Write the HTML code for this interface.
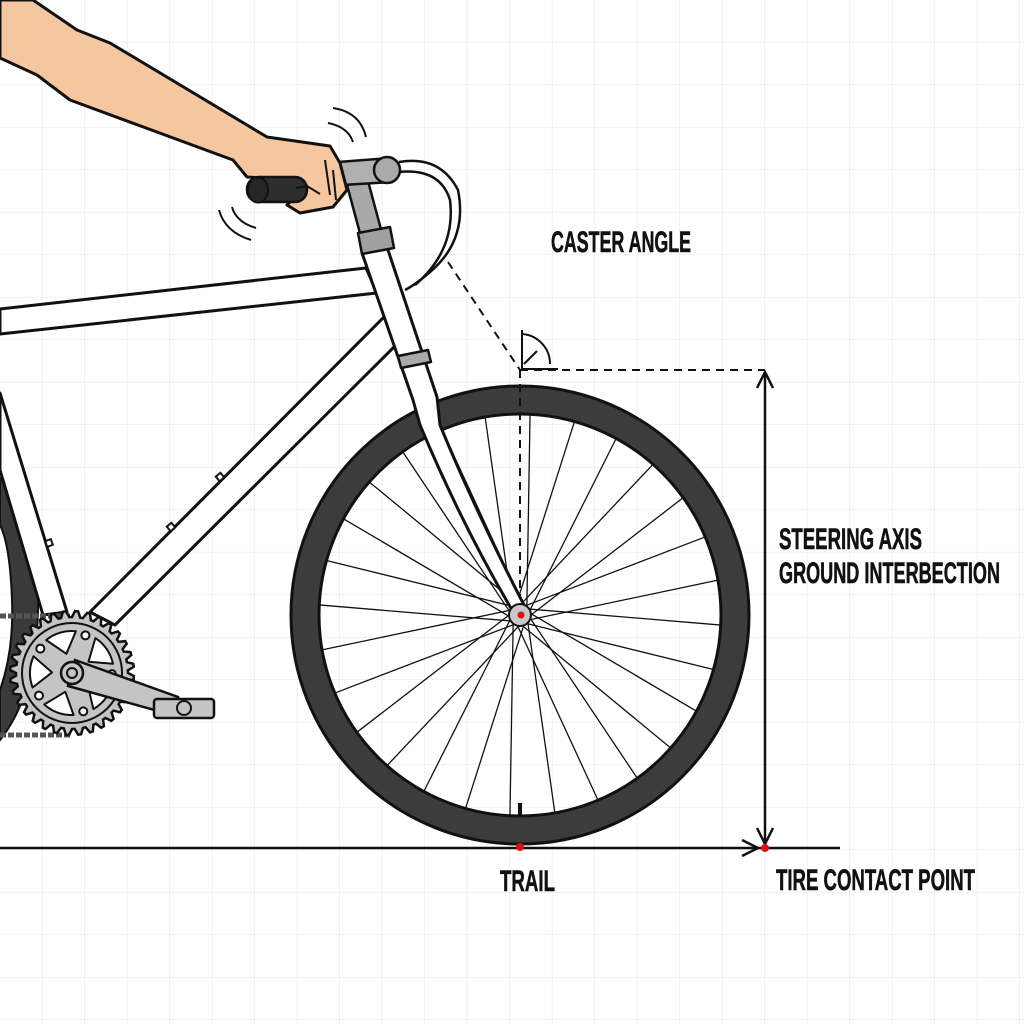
<!DOCTYPE html>
<html><head><meta charset="utf-8"><style>
html,body{margin:0;padding:0;background:#fff;}
svg{display:block;}
text{font-family:"Liberation Sans",sans-serif;font-weight:bold;fill:#111;stroke:#111;stroke-width:0.6;}
</style></head><body>
<svg id="s" width="1024" height="1024" viewBox="0 0 1024 1024" xmlns="http://www.w3.org/2000/svg">
<defs>
<pattern id="g" width="42.5" height="42.5" patternUnits="userSpaceOnUse">
<path d="M42.5 0V42.5M0 42.5H42.5" stroke="#e6e9ec" stroke-width="1.3" fill="none"/>
</pattern>
</defs>
<rect width="1024" height="1024" fill="url(#g)"/>

<!-- rear tire -->
<path d="M0 478 Q40 520 38 610 Q36 695 0 740 L0 690 Q14 650 12 600 Q10 545 0 525Z" fill="#3a3a3a" stroke="#111" stroke-width="2"/>

<!-- frame -->
<g fill="#fff" stroke="#111" stroke-width="3" stroke-linejoin="round">
<path d="M0 309 L366 268 L377 293 L0 334Z"/>
<path d="M386 315 L90 612 L115 625 L396 345Z"/>
<path d="M0 393 L67 612 L43 615 L0 470Z"/>
</g>
<g fill="#fff" stroke="#111" stroke-width="2">
<rect x="46" y="540" width="6" height="6" transform="rotate(-20 49 543)"/>
<rect x="168" y="524" width="6" height="6" transform="rotate(-40 171 527)"/>
<rect x="217" y="474" width="6" height="6" transform="rotate(-40 220 477)"/>
</g>

<!-- front wheel -->
<circle cx="520" cy="615" r="215" fill="none" stroke="#3c3c3c" stroke-width="28"/>
<circle cx="520" cy="615" r="229" fill="none" stroke="#111" stroke-width="3"/>
<circle cx="520" cy="615" r="201" fill="none" stroke="#111" stroke-width="3"/>
<g id="spokes" stroke="#111" stroke-width="1.3"></g>
<line x1="520" y1="803" x2="520" y2="817" stroke="#111" stroke-width="4"/>

<!-- dashed steering axis -->
<g stroke="#111" stroke-width="2" stroke-dasharray="8 6" fill="none">
<line x1="448" y1="262" x2="520" y2="370"/>
<line x1="520" y1="370" x2="520" y2="612"/>
<line x1="520" y1="370" x2="765" y2="370"/>
</g>
<path d="M522 330 V370 M522 334 A30 30 0 0 1 550 364 M524 364 L537 351 M522 369 H558" stroke="#111" stroke-width="2" fill="none"/>

<!-- head tube, fork -->
<g stroke="#111" stroke-width="3" stroke-linejoin="round">
<path d="M362 253 L387 247 L437 397 L440 425 Q475 510 524 605 L512 610 Q462 525 420 425 L413 400Z" fill="#fff"/>
<path d="M398 356 L428 350 L431 362 L401 368Z" fill="#aaa" stroke-width="2.5"/>
<path d="M347 185 L368 181 L382 233 L361 237Z" fill="#a9a9a9" stroke-width="2.5"/>
<path d="M358 233 L390 227 L394 248 L362 254Z" fill="#a0a0a0" stroke-width="2.5"/>
<path d="M338 162 L390 158 L392 182 L342 185Z" fill="#b0b0b0" stroke-width="2.5"/>
<circle cx="387" cy="170" r="13" fill="#aaa" stroke-width="2.5"/>
</g>
<path d="M399 162 Q440 155 458 190 Q468 240 430 272 Q415 285 405 290" fill="none" stroke="#111" stroke-width="2.5"/>
<path d="M399 172 Q440 168 450 200 Q456 250 415 285" fill="none" stroke="#111" stroke-width="2.5"/>

<!-- hub -->
<circle cx="520" cy="615" r="11" fill="#c8c8c8" stroke="#111" stroke-width="2"/>
<circle cx="521" cy="615" r="3.5" fill="#e01010"/>

<!-- arm -->
<path d="M33 0 L77 30 L110 43 L267 137 L330 146 L340 163 L347 190 L333 207 L300 213 L287 205 L300 192 L307 188 L290 180 L247 177 L233 160 L70 100 L37 75 L0 58 L0 0Z" fill="#f5c7a0" stroke="#111" stroke-width="3" stroke-linejoin="round"/>
<path d="M325 160 L330 195 M333 170 L336 200" stroke="#111" stroke-width="2" fill="none"/>
<rect x="247" y="177" width="60" height="25" rx="12" fill="#2e2e2e" stroke="#111" stroke-width="2.5"/>
<ellipse cx="258" cy="190" rx="10" ry="12.5" fill="#262626" stroke="#111" stroke-width="2"/>
<path d="M296 188 L307 186 L320 194" fill="none" stroke="#111" stroke-width="2"/>
<g stroke="#111" stroke-width="2" fill="none">
<path d="M333 108 Q360 112 366 137"/>
<path d="M328 123 Q348 127 353 142"/>
<path d="M219 210 Q225 232 251 240"/>
<path d="M232 207 Q236 222 256 228"/>
</g>

<!-- chain -->
<g stroke="#555" stroke-width="5" stroke-dasharray="6 2" fill="none">
<line x1="0" y1="616" x2="70" y2="616"/>
<line x1="0" y1="735" x2="70" y2="735"/>
</g>
<g id="ring"></g>
<path d="M75 660 L178 697 L176 716 L68 686Z" fill="#c4c4c4" stroke="#111" stroke-width="2.5"/>
<circle cx="72" cy="673" r="11" fill="#c4c4c4" stroke="#111" stroke-width="2.5"/>
<circle cx="72" cy="673" r="5" fill="none" stroke="#111" stroke-width="2"/>
<rect x="154" y="699" width="60" height="19" rx="3" fill="#c4c4c4" stroke="#111" stroke-width="2.5"/>
<circle cx="184" cy="708" r="7" fill="#c4c4c4" stroke="#111" stroke-width="2"/>

<!-- ground & arrows -->
<line x1="0" y1="848" x2="840" y2="848" stroke="#111" stroke-width="2.5"/>
<path d="M742 840 L758 848 L742 856" fill="none" stroke="#111" stroke-width="2.5"/>
<line x1="765" y1="374" x2="765" y2="844" stroke="#111" stroke-width="2.5"/>
<path d="M757 388 L765 372 L773 388 M757 828 L765 844 L773 828" fill="none" stroke="#111" stroke-width="2.5"/>
<circle cx="520" cy="847" r="4" fill="#e01010"/>
<circle cx="765" cy="848" r="4" fill="#e01010"/>

<text x="551" y="252" font-size="30" textLength="140" lengthAdjust="spacingAndGlyphs">CASTER ANGLE</text>
<text x="779" y="549" font-size="30" textLength="143" lengthAdjust="spacingAndGlyphs">STEERING AXIS</text>
<text x="779" y="583" font-size="30" textLength="221" lengthAdjust="spacingAndGlyphs">GROUND INTERBECTION</text>
<text x="500" y="891" font-size="30" textLength="55" lengthAdjust="spacingAndGlyphs">TRAIL</text>
<text x="776" y="890" font-size="30" textLength="199" lengthAdjust="spacingAndGlyphs">TIRE CONTACT POINT</text>
</svg>
<script>
var NS="http://www.w3.org/2000/svg";
var sp=document.getElementById("spokes");
for(var i=0;i<28;i++){
  var a=i*2*Math.PI/28+0.05;
  var l=document.createElementNS(NS,"line");
  var off=(i%2?1:-1)*0.12;
  l.setAttribute("x1",520+8*Math.cos(a+off*8));l.setAttribute("y1",615+8*Math.sin(a+off*8));
  l.setAttribute("x2",520+201*Math.cos(a));l.setAttribute("y2",615+201*Math.sin(a));
  sp.appendChild(l);
}
var r=document.getElementById("ring");
var cx=72,cy=673,d="";
var n=32;
function p(a,rr){return (cx+rr*Math.cos(a)).toFixed(1)+" "+(cy+rr*Math.sin(a)).toFixed(1);}
for(var i=0;i<n;i++){
  var a0=i*2*Math.PI/n,a1=a0+Math.PI/n*0.5,a2=a0+Math.PI/n,a3=a0+Math.PI/n*1.5;
  d+=(i?"L":"M")+p(a0,56)+"L"+p(a1,62)+"L"+p(a2,62)+"L"+p(a3,56);
}
d+="Z";
var t=document.createElementNS(NS,"path");
t.setAttribute("d",d);t.setAttribute("fill","#c4c4c4");t.setAttribute("stroke","#111");t.setAttribute("stroke-width","2.5");
r.appendChild(t);
var c=document.createElementNS(NS,"circle");
c.setAttribute("cx",cx);c.setAttribute("cy",cy);c.setAttribute("r",50);c.setAttribute("fill","none");c.setAttribute("stroke","#111");c.setAttribute("stroke-width","2");
r.appendChild(c);
for(var i=0;i<5;i++){
  var a=i*2*Math.PI/5-0.6;
  var h=document.createElementNS(NS,"path");
  var a1=a-0.38,a2=a+0.38;
  h.setAttribute("d","M"+p(a,20)+"L"+p(a1,42)+"A42 42 0 0 1 "+p(a2,42)+"Z");
  h.setAttribute("fill","#fff");h.setAttribute("stroke","#111");h.setAttribute("stroke-width","2");h.setAttribute("stroke-linejoin","round");
  r.appendChild(h);
  var b=document.createElementNS(NS,"circle");
  var ab=a+Math.PI/5;
  b.setAttribute("cx",cx+40*Math.cos(ab));b.setAttribute("cy",cy+40*Math.sin(ab));b.setAttribute("r",4);
  b.setAttribute("fill","#fff");b.setAttribute("stroke","#111");b.setAttribute("stroke-width","2");
  r.appendChild(b);
}
</script>
</body></html>
